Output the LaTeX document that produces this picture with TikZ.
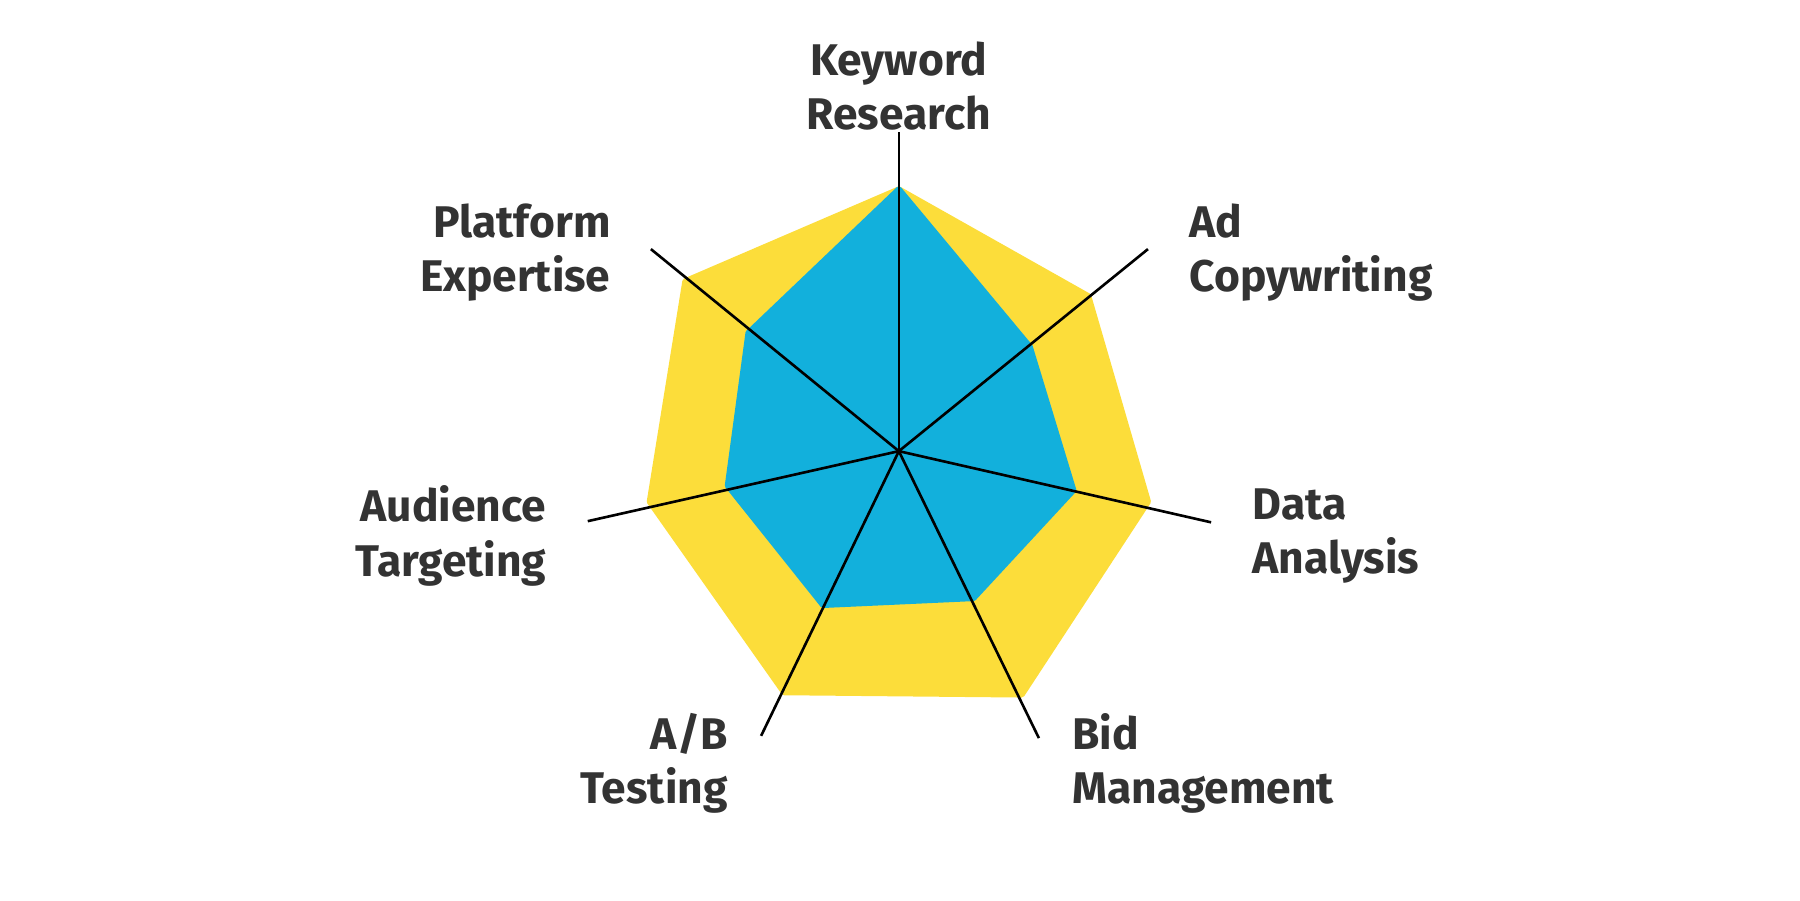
\documentclass[tikz,border=0pt]{standalone}
\usepackage{fontspec}
\setmainfont{Fira Sans}
\usetikzlibrary{positioning}
\definecolor{skillyellow}{HTML}{FCDD3A}
\definecolor{skillblue}{HTML}{12B0DC}
\definecolor{labelgray}{HTML}{333333}

\begin{document}
\begin{tikzpicture}[x=0.02cm,y=-0.02cm,
                    spoke/.style={black,line width=1.3pt},
                    skill/.style={text=labelgray,font=\fontsize{22}{27}\selectfont\bfseries,align=#1},
                    area/.style={fill=#1,draw=#1,line width=3pt,line join=round}]

        \useasboundingbox (0,0) rectangle (1568,784);

        % centre and spoke ends
        \coordinate (c) at (783,393);
        \coordinate (kw) at (783,115);
        \coordinate (ad) at (1000,217);
        \coordinate (da) at (1055,455);
        \coordinate (bid) at (905,643);
        \coordinate (ab) at (663,641);
        \coordinate (aud) at (512,454);
        \coordinate (pl) at (567,217);

        % outer area
        \draw[area=skillyellow] (783,165) -- (948,258) -- (1000,437) -- (890,605)
              -- (683,603) -- (566,437) -- (597,245) -- cycle;
        % inner area
        \draw[area=skillblue] (783,165) -- (897,302) -- (935,427) -- (848,521)
              -- (717,527) -- (634,423) -- (652,290) -- cycle;

        \foreach \e in {kw,ad,da,bid,ab,aud,pl}
            \draw[spoke] (c) -- (\e);

        \node[skill=center] (lkw) at (783,75) {Keyword\\Research};
        \node[skill=left,anchor=west] (lad) at (1030,220) {Ad\\Copywriting};
        \node[skill=left,anchor=west] (lda) at (1085,467) {Data\\Analysis};
        \node[skill=left,anchor=west] (lbid) at (928,665) {Bid\\Management};
        \node[skill=right,anchor=east] (lab) at (640,665) {A/B\\Testing};
        \node[skill=right,anchor=east] (laud) at (482,467) {Audience\\Targeting};
        \node[skill=right,anchor=east] (lpl) at (538,220) {Platform\\Expertise};
      \end{tikzpicture}
\end{document}
